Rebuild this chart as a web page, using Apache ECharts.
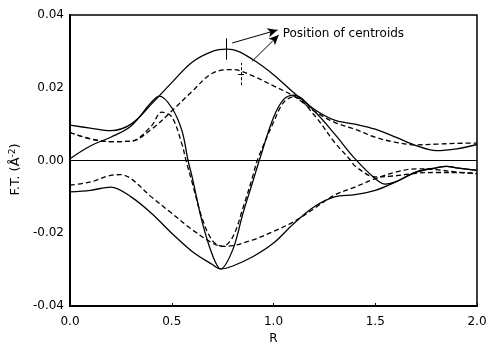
<!DOCTYPE html>
<html><head><meta charset="utf-8">
<script src="https://cdn.jsdelivr.net/npm/echarts@6/dist/echarts.min.js"></script>
<style>html,body{margin:0;padding:0;background:#fff}#c{width:488px;height:344px}</style>
</head><body><div id="c"></div>
<script>
// Solid envelope (upper)
var solidTopX = [0,0.1,0.2,0.3,0.4,0.5,0.6,0.7,0.77,0.8,0.9,1.0,1.1,1.2,1.3,1.4,1.5,1.6,1.7,1.8,1.9,2.0];
var solidTopY = [0.0097,0.0089,0.0082,0.0100,0.0155,0.0214,0.0270,0.0300,0.0306,0.0305,0.0277,0.0236,0.0186,0.0141,0.0111,0.0100,0.0086,0.0064,0.0041,0.0027,0.0032,0.0044];
// Solid envelope (lower)
var solidBotX = [0,0.1,0.2,0.3,0.4,0.5,0.6,0.7,0.74,0.8,0.9,1.0,1.1,1.2,1.3,1.4,1.5,1.6,1.7,1.8,1.85,1.9,2.0];
var solidBotY = [-0.0086,-0.0082,-0.0073,-0.0100,-0.0145,-0.0200,-0.0250,-0.0286,-0.0298,-0.0290,-0.0264,-0.0227,-0.0173,-0.0127,-0.0100,-0.0094,-0.0082,-0.0059,-0.0032,-0.0020,-0.0016,-0.0020,-0.0027];
// Dashed envelope (upper)
var dashTopX = [0,0.1,0.2,0.3,0.4,0.5,0.6,0.7,0.8,0.9,1.0,1.1,1.2,1.3,1.4,1.5,1.6,1.7,1.8,1.9,2.0];
var dashTopY = [0.0077,0.0059,0.0052,0.0053,0.0086,0.0136,0.0190,0.0240,0.0250,0.0232,0.0205,0.0177,0.0136,0.0105,0.0086,0.0064,0.0050,0.0043,0.0045,0.0047,0.0048];
// Dashed envelope (lower)
var dashBotX = [0,0.1,0.2,0.25,0.3,0.4,0.5,0.6,0.7,0.75,0.8,0.9,1.0,1.1,1.2,1.3,1.4,1.5,1.6,1.7,1.8,1.9,2.0];
var dashBotY = [-0.0068,-0.0059,-0.0041,-0.0039,-0.0050,-0.0100,-0.0145,-0.0190,-0.0227,-0.0236,-0.0234,-0.0218,-0.0195,-0.0168,-0.0132,-0.0095,-0.0073,-0.0050,-0.0032,-0.0023,-0.0025,-0.0032,-0.0036];
// Solid oscillating part
var solidOscX = [0,0.1,0.2,0.3,0.4,0.44,0.5,0.55,0.58,0.6,0.65,0.7,0.74,0.8,0.85,0.9,0.93,1.0,1.05,1.1,1.2,1.3,1.4,1.5,1.55,1.6,1.7,1.8,1.85,1.9,2.0];
var solidOscY = [0.0005,0.0040,0.0064,0.0095,0.0160,0.0177,0.0145,0.0082,0.0000,-0.0045,-0.0170,-0.0260,-0.0298,-0.0245,-0.0145,-0.0055,0.0000,0.0118,0.0168,0.0180,0.0136,0.0073,0.0005,-0.0050,-0.0065,-0.0059,-0.0032,-0.0020,-0.0016,-0.0020,-0.0027];
// Dashed oscillating part
var dashOscX = [0,0.1,0.2,0.3,0.4,0.45,0.5,0.55,0.57,0.6,0.65,0.7,0.75,0.8,0.85,0.9,0.92,1.0,1.05,1.1,1.2,1.3,1.38,1.4,1.5,1.6,1.7,1.8,1.9,2.0];
var dashOscY = [0.0077,0.0060,0.0052,0.0053,0.0095,0.0133,0.0120,0.0045,0.0000,-0.0060,-0.0160,-0.0220,-0.0236,-0.0210,-0.0130,-0.0040,0.0000,0.0105,0.0160,0.0175,0.0125,0.0050,0.0000,-0.0015,-0.0045,-0.0042,-0.0035,-0.0033,-0.0033,-0.0035];
// Centroid markers and annotation
var centroidSolid = [0.77, 0.0277, 0.0336];
var centroidDash = [0.84, 0.0207, 0.0268];
var annotText = 'Position of centroids';
var xTicks = [0, 0.5, 1.0, 1.5, 2.0];
var yTicks = [-0.04, -0.02, 0.00, 0.02, 0.04];

function pairs(xs, ys){ return xs.map(function(x,i){ return [x, ys[i]]; }); }

var font = 'DejaVu Sans, Liberation Sans, Arial, sans-serif';
var solidStyle = {color:'#000', width:1.3, type:'solid'};
var dashStyle = {color:'#000', width:1.3, type:[5,3]};

function mkLine(name, xs, ys, style, extra){
  var s = {name:name, type:'line', data:pairs(xs, ys), smooth:0.35, showSymbol:false, symbol:'none',
    lineStyle:style, silent:true, animation:false, z:3};
  if (extra) for (var k in extra) s[k] = extra[k];
  return s;
}

var chart = echarts.init(document.getElementById('c'), null, {renderer:'canvas'});
chart.setOption({
  animation:false,
  grid:{left:70, right:11, top:15, bottom:38, show:false, containLabel:false, outerBoundsMode:'none'},
  xAxis:{type:'value', min:0, max:2, interval:0.5,
    name:'R', nameLocation:'middle', nameGap:25,
    nameTextStyle:{fontFamily:font, fontSize:12, color:'#000'},
    axisLine:{show:true, onZero:false, lineStyle:{color:'#000', width:2}},
    axisTick:{show:true, inside:true, length:3, lineStyle:{color:'#000'}},
    axisLabel:{fontFamily:font, fontSize:12, color:'#000', margin:10,
      formatter:function(v){ return v.toFixed(1); }},
    splitLine:{show:false}},
  yAxis:{type:'value', min:-0.04, max:0.04, interval:0.02,
    name:'F.T. (Å{s|-2})', nameLocation:'middle', nameGap:44,
    nameTextStyle:{fontFamily:font, fontSize:13, color:'#000', padding:[0,18,0,0],
      rich:{s:{fontFamily:font, fontSize:9, color:'#000', verticalAlign:'top', padding:[0,0,6,0]}}},
    axisLine:{show:true, onZero:false, lineStyle:{color:'#000', width:2}},
    axisTick:{show:false},
    axisLabel:{fontFamily:font, fontSize:12, color:'#000', margin:6,
      formatter:function(v){ return v.toFixed(2); }},
    splitLine:{show:false}},
  series:[
    mkLine('solidTop', solidTopX, solidTopY, solidStyle, {
      markLine:{silent:true, symbol:'none', animation:false,
        lineStyle:{color:'#000', width:1, type:'solid'}, label:{show:false},
        data:[
          [{coord:[0, 0]},{coord:[2, 0]}],
          [{coord:[centroidSolid[0], centroidSolid[1]]},{coord:[centroidSolid[0], centroidSolid[2]]}],
          [{coord:[centroidDash[0], centroidDash[1]], lineStyle:{type:[3,2]}},{coord:[centroidDash[0], centroidDash[2]]}],
          [{coord:[centroidDash[0]-0.015, (centroidDash[1]+centroidDash[2])/2]},{coord:[centroidDash[0]+0.015, (centroidDash[1]+centroidDash[2])/2]}]
        ]}
    }),
    mkLine('solidBot', solidBotX, solidBotY, solidStyle, {
      markLine:{silent:true, animation:false, symbol:['none','arrow'], symbolSize:[7,10],
        lineStyle:{color:'#000', width:1, type:'solid'}, label:{show:false},
        data:[
          [{coord:[0.797, 0.0323]},{coord:[1.02, 0.0359]}],
          [{coord:[0.895, 0.0273]},{coord:[1.026, 0.0345]}]
        ]}
    }),
    mkLine('dashTop', dashTopX, dashTopY, dashStyle, {
      markPoint:{silent:true, animation:false, symbol:'rect', symbolSize:0,
        label:{show:true, position:'right', distance:0, formatter:annotText,
          fontFamily:font, fontSize:12, color:'#000'},
        data:[{coord:[1.045, 0.0348]}]}
    }),
    mkLine('dashBot', dashBotX, dashBotY, dashStyle),
    mkLine('solidOsc', solidOscX, solidOscY, solidStyle),
    mkLine('dashOsc', dashOscX, dashOscY, dashStyle)
  ]
});
// frame top/right
chart.setOption({graphic:[{type:'rect', silent:true, z:10,
  shape:{x:70, y:15, width:407, height:291}, style:{fill:'none', stroke:'#000', lineWidth:1.5}}]});
</script></body></html>
